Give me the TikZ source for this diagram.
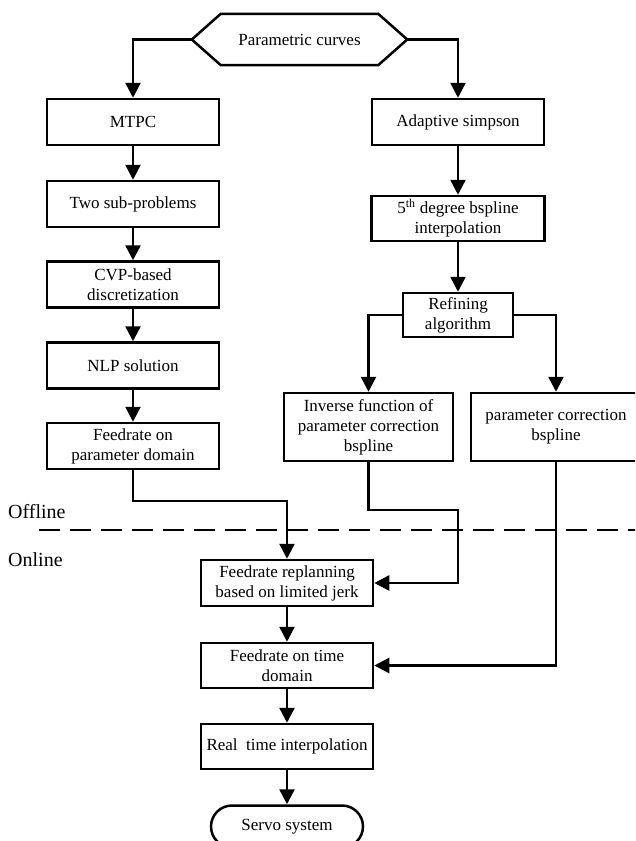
\documentclass[tikz,border=0pt]{standalone}
\usepackage{fontspec}
\setmainfont{Liberation Serif}
\usetikzlibrary{arrows.meta}
\begin{document}
\begin{tikzpicture}[x=1pt,y=-1pt,
  box/.style={draw,line width=2.5pt,rectangle,inner sep=0pt,align=center,
    font=\fontsize{17}{20}\selectfont},
  hexnode/.style={inner sep=0pt,align=center,font=\fontsize{17}{20}\selectfont},
  stadium/.style={draw,line width=2.5pt,rectangle,rounded corners=21pt,inner sep=0pt,
    align=center,font=\fontsize{17}{20}\selectfont},
  arr/.style={line width=2.5pt,-{Triangle[width=15pt,length=15pt]}},
  lbl/.style={inner sep=0pt,font=\fontsize{20}{24}\selectfont}]
\useasboundingbox (0,0) rectangle (635,841);
\clip (0,0) rectangle (635,841);
% top hexagon
\node[hexnode,minimum width=215pt,minimum height=51pt] (hex) at (299.5,39.5) {Parametric curves};
\draw[line width=2.5pt,line join=miter] (hex.west) -- ([xshift=29pt]hex.north west) -- ([xshift=-29pt]hex.north east)
  -- (hex.east) -- ([xshift=-29pt]hex.south east) -- ([xshift=29pt]hex.south west) -- cycle;
% left column
\node[box,minimum width=172pt,minimum height=46pt] (mtpc) at (133,122) {MTPC};
\node[box,minimum width=172pt,minimum height=46pt] (two) at (133,204) {Two sub-problems};
\node[box,minimum width=172pt,minimum height=46pt] (cvp) at (133,284.5) {CVP-based\\discretization};
\node[box,minimum width=172pt,minimum height=46pt] (nlp) at (133,365.5) {NLP solution};
\node[box,minimum width=172pt,minimum height=46pt] (feed) at (133,446) {Feedrate on\\parameter domain};
% right column
\node[box,minimum width=172pt,minimum height=46pt] (simp) at (458,122) {Adaptive simpson};
\node[box,minimum width=173pt,minimum height=45pt] (fifth) at (458,218.5) {5\textsuperscript{th} degree bspline\\interpolation};
\node[box,minimum width=110pt,minimum height=44pt] (ref) at (458,315) {Refining\\algorithm};
\node[box,minimum width=169pt,minimum height=68pt] (inv) at (368.5,427) {Inverse function of\\parameter correction\\bspline};
\node[box,minimum width=170pt,minimum height=68pt] (par) at (556,427) {parameter correction\\bspline};
% bottom
\node[box,minimum width=172pt,minimum height=46pt] (repl) at (287,583) {Feedrate replanning\\based on limited jerk};
\node[box,minimum width=172pt,minimum height=45pt] (time) at (287,665.5) {Feedrate on time\\domain};
\node[box,minimum width=172pt,minimum height=45pt] (real) at (287,746.5) {Real~ time interpolation};
\node[stadium,minimum width=152pt,minimum height=42pt] (servo) at (287,826.5) {Servo system};
% labels
\node[lbl,anchor=base west] (off) at (8,518) {Offline};
\node[lbl,anchor=base west] (on) at (8,566) {Online};
\coordinate (dl) at (39,530);
\coordinate (dr) at (640,530);
\draw[line width=2.5pt,dash pattern=on 21pt off 10pt] (dl) -- (dr);
% connectors
\draw[arr] (hex.west) -| (mtpc.north);
\draw[arr] (hex.east) -| (simp.north);
\draw[arr] (mtpc) -- (two);
\draw[arr] (two) -- (cvp);
\draw[arr] (cvp) -- (nlp);
\draw[arr] (nlp) -- (feed);
\draw[arr] (simp) -- (fifth);
\draw[arr] (fifth) -- (ref);
\draw[arr] (ref.west) -| (inv.north);
\draw[arr] (ref.east) -| (par.north);
\coordinate (j1) at (287,501);
\draw[arr] (feed.south) |- (j1) -- (repl.north);
\coordinate (j2) at (458,510);
\draw[arr] (inv.south) |- (j2) |- (repl.east);
\draw[arr] (par.south) |- (time.east);
\draw[arr] (repl) -- (time);
\draw[arr] (time) -- (real);
\draw[arr] (real) -- (servo);
\end{tikzpicture}
\end{document}
